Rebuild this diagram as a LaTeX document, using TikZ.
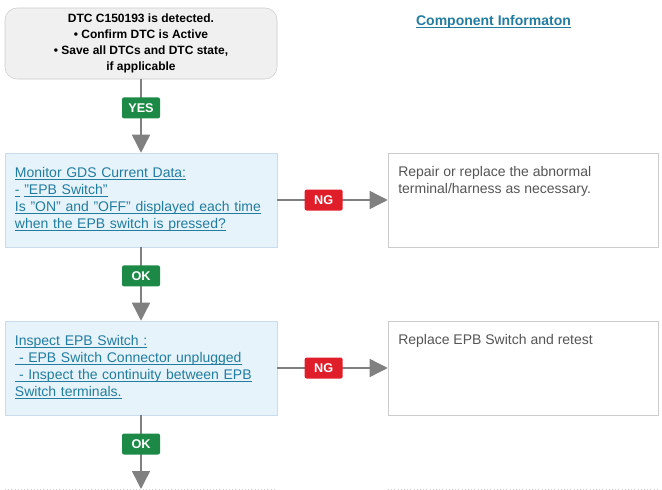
\documentclass[tikz,border=0pt]{standalone}
\usepackage{fontspec}
\setmainfont{Liberation Sans}
\usetikzlibrary{arrows.meta}
\definecolor{linkblue}{RGB}{34,124,160}
\definecolor{startgray}{RGB}{240,240,240}
\definecolor{edgegray}{RGB}{204,204,204}
\definecolor{checkblue}{RGB}{230,243,251}
\definecolor{checkedge}{RGB}{200,220,236}
\definecolor{flowgray}{RGB}{128,128,128}
\definecolor{okgreen}{RGB}{28,138,70}
\definecolor{ngred}{RGB}{224,30,42}
\definecolor{notetextgray}{RGB}{85,85,85}
\newcommand{\ulink}[1]{\underline{\smash{#1}}\vphantom{Ag}}
\tikzset{
  startbox/.style={draw=edgegray, fill=startgray, rounded corners=9pt, align=center,
    minimum width=204pt, minimum height=53.25pt, inner sep=0pt,
    font=\bfseries\fontsize{9}{12}\selectfont},
  checkbox/.style={draw=checkedge, fill=checkblue, align=left, text width=189pt,
    inner xsep=7.5pt, inner ysep=0pt, minimum height=70.5pt, text=linkblue,
    font=\fontsize{10.5}{12.75}\selectfont},
  notebox/.style={draw=edgegray, fill=white, minimum width=202.5pt, minimum height=70.5pt},
  notetext/.style={align=left, inner sep=0pt, text=notetextgray,
    font=\fontsize{10.5}{12.75}\selectfont},
  flow/.style={draw=flowgray, line width=1.1pt, -{Triangle[width=13.5pt,length=13.5pt]}},
  tag/.style={rounded corners=1.5pt, text=white, minimum width=28.5pt, minimum height=15.75pt,
    inner sep=0pt, font=\bfseries\fontsize{9.5}{10}\selectfont, pos=0.39},
  yes/.style={tag, fill=okgreen},
  ok/.style={tag, fill=okgreen},
  ng/.style={tag, fill=ngred, pos=0.42}
}
\begin{document}
\begin{tikzpicture}[x=0.75pt,y=-0.75pt]
    \useasboundingbox (0,0) rectangle (662,490);
    \node[startbox] (dtc) at (141,43.5) {DTC C150193 is detected.\\ • Confirm DTC is Active\\ • Save all DTCs and DTC state,\\ if applicable};
    \node[font=\bfseries\fontsize{10.5}{12}\selectfont, text=linkblue] (info) at (493.5,22) {\ulink{Component Informaton}};
    \node[checkbox] (monitor) at (141,200) {\ulink{Monitor GDS Current Data:}\\ \ulink{-} \ulink{"EPB Switch"}\\ \ulink{Is "ON" and "OFF" displayed each time}\\ \ulink{when the EPB switch is pressed?}};
    \node[notebox] (repair) at (523,200) {};
    \node[notetext, anchor=north west] (repairtxt) at (398,166) {Repair or replace the abnormal\\ terminal/harness as necessary.};
    \node[checkbox] (inspect) at (141,368) {\ulink{Inspect EPB Switch :}\\ \ulink{\hspace{3pt}- EPB Switch Connector unplugged}\\ \ulink{\hspace{3pt}- Inspect the continuity between EPB}\\ \ulink{Switch terminals.}};
    \node[notebox] (replace) at (523,368) {};
    \node[notetext, anchor=north west] (replacetxt) at (398,334) {Replace EPB Switch and retest};
    \coordinate (next) at (141,489);
    % next steps, cut off at the bottom
    \draw[edgegray, dotted] (5,489) -- (277,489);
    \draw[edgegray, dotted] (388,489) -- (658,489);
    % flow
    \draw[flow] (dtc) -- node[yes] {YES} (monitor);
    \draw[flow] (monitor) -- node[ng] {NG} (repair);
    \draw[flow] (monitor) -- node[ok] {OK} (inspect);
    \draw[flow] (inspect) -- node[ng] {NG} (replace);
    \draw[flow] (inspect) -- node[ok] {OK} (next);
\end{tikzpicture}
\end{document}
